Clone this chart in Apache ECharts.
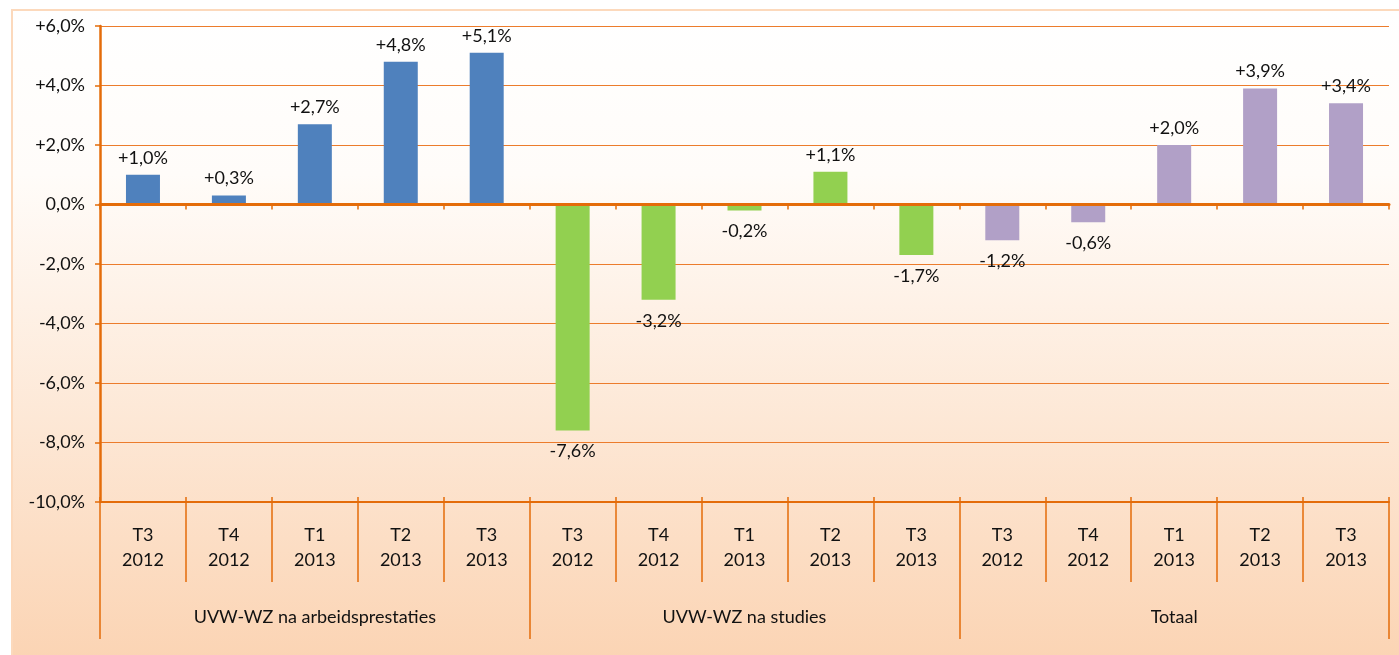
<!DOCTYPE html>
<html>
<head>
<meta charset="utf-8">
<script src="https://cdn.jsdelivr.net/npm/echarts@6/dist/echarts.min.js"></script>
<style>
  html, body { margin: 0; padding: 0; background: #fff; }
  #chart { width: 1399px; height: 655px; }
</style>
</head>
<body>
<div id="chart"></div>
<script>
// kwartalen per groep
var kwartalen = ['T3\n2012', 'T4\n2012', 'T1\n2013', 'T2\n2013', 'T3\n2013'];
var groepen = ['UVW-WZ na arbeidsprestaties', 'UVW-WZ na studies', 'Totaal'];
// evolutie in %
var arbeid = [1.0, 0.3, 2.7, 4.8, 5.1];
var studies = [-7.6, -3.2, -0.2, 1.1, -1.7];
var totaal = [-1.2, -0.6, 2.0, 3.9, 3.4];
var yTicks = [-10, -8, -6, -4, -2, 0, 2, 4, 6];

var kleuren = ['#4f81bd', '#92d050', '#b1a0c7'];
var oranje = '#e46c0a';
var fnt = 'Lato';

var cats = [];
groepen.forEach(function (g) {
    kwartalen.forEach(function (k) { cats.push(k); });
});

function pct(v) {
    var s = Math.abs(v).toFixed(1).replace('.', ',') + '%';
    if (v > 0) return '+' + s;
    if (v < 0) return '-' + s;
    return s;
}

// elke groep krijgt een eigen serie, de rest leeg
function reeks(idx, vals) {
    var d = [];
    for (var i = 0; i < cats.length; i++) {
        var g = Math.floor(i / 5);
        if (g === idx) {
            var v = vals[i % 5];
            d.push({
                value: v,
                label: { position: v < 0 ? 'bottom' : 'top', distance: v < 0 ? 12 : 8 }
            });
        } else {
            d.push('-');
        }
    }
    return {
        type: 'bar',
        stack: 'alles',
        barWidth: 34,
        xAxisIndex: 0,
        itemStyle: { color: kleuren[idx] },
        label: {
            show: true,
            fontFamily: fnt,
            fontSize: 18,
            color: '#111',
            formatter: function (p) { return pct(p.value); }
        },
        data: d
    };
}

var option = {
    animation: false,
    graphic: [{
        type: 'rect',
        z: -10,
        shape: { x: 12, y: 10, width: 1400, height: 660 },
        style: {
            fill: new echarts.graphic.LinearGradient(0, 0, 0, 1, [
                { offset: 0, color: '#ffffff' },
                { offset: 0.25, color: '#fffcf9' },
                { offset: 1, color: '#fbd3b2' }
            ]),
            stroke: '#fcd9bc',
            lineWidth: 2
        }
    }],
    grid: { left: 100, right: 10, top: 26, bottom: 153, containLabel: false },
    xAxis: [
        {   // nullijn, streepjes naar onder
            type: 'category',
            data: cats,
            position: 'bottom',
            axisLine: { onZero: true, lineStyle: { color: oranje, width: 3 } },
            axisTick: { show: true, length: 5, interval: 0, lineStyle: { color: oranje, width: 1.5 } },
            axisLabel: { show: false },
            z: 5
        },
        {   // kwartalen onderaan
            type: 'category',
            data: cats,
            position: 'bottom',
            axisLine: { onZero: false, lineStyle: { color: oranje, width: 2 } },
            axisTick: { show: true, length: 80, interval: 0, lineStyle: { color: oranje, width: 1.5 } },
            axisLabel: {
                interval: 0, margin: 21, fontFamily: fnt, fontSize: 18,
                lineHeight: 25, color: '#111'
            }
        },
        {   // groepen
            type: 'category',
            data: groepen,
            position: 'bottom',
            axisLine: { show: false, onZero: false },
            axisTick: { show: true, length: 137, interval: 0, lineStyle: { color: oranje, width: 1.5 } },
            axisLabel: {
                interval: 0, margin: 106, fontFamily: fnt, fontSize: 18, color: '#111'
            }
        },
        {   // nullijn, streepjes naar boven
            type: 'category',
            data: cats,
            position: 'bottom',
            axisLine: { show: false, onZero: true },
            axisTick: { show: true, inside: true, length: 5, interval: 0, lineStyle: { color: oranje, width: 1.5 } },
            axisLabel: { show: false }
        }
    ],
    yAxis: {
        type: 'value',
        min: yTicks[0],
        max: yTicks[yTicks.length - 1],
        interval: 2,
        axisLine: { show: true, lineStyle: { color: oranje, width: 2.5 } },
        axisTick: { show: true, length: 5, lineStyle: { color: oranje, width: 1.5 } },
        splitLine: { lineStyle: { color: '#ec7c2c', width: 1.2 } },
        axisLabel: {
            margin: 15, fontFamily: fnt, fontSize: 18, color: '#111',
            formatter: function (v) { return pct(v); }
        }
    },
    series: [reeks(0, arbeid), reeks(1, studies), reeks(2, totaal)]
};

var myChart = echarts.init(document.getElementById('chart'));
myChart.setOption(option);
</script>
</body>
</html>
